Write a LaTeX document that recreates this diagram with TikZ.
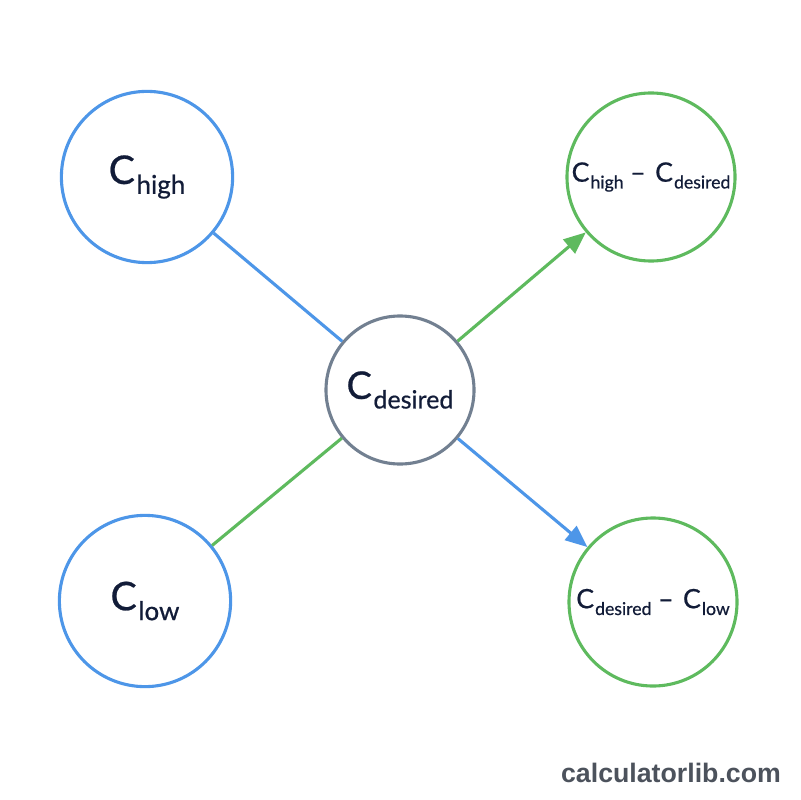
\documentclass[tikz,border=0pt]{standalone}
\usepackage{fontspec}
\setmainfont{Lato}
\newfontfamily\labelfont{Lato}[FakeBold=0.6]
\newfontfamily\sitefont{Liberation Sans}
\usetikzlibrary{arrows.meta, positioning}

\definecolor{lineblue}{RGB}{77,150,232}
\definecolor{linegreen}{RGB}{94,186,94}
\definecolor{ringgray}{RGB}{114,128,145}
\definecolor{inkblue}{RGB}{18,28,56}
\definecolor{sitegray}{RGB}{76,82,92}

% C with a lowered subscript word
\newcommand{\cval}[1]{C\kern0.04em\raisebox{-0.5ex}{\scalebox{0.66}{#1}}}
\newcommand{\cminus}{\kern0.25em–\kern0.35em}

\begin{document}
\begin{tikzpicture}[
    x=0.025cm, y=-0.025cm,
    ring/.style={circle, line width=2.2pt, fill=white, text=inkblue, inner sep=0pt},
    inring/.style={ring, draw=lineblue, minimum size=4.28cm, font=\labelfont\fontsize{28}{30}\selectfont},
    midring/.style={ring, draw=ringgray, minimum size=3.7cm, font=\labelfont\fontsize{27}{30}\selectfont},
    outring/.style={ring, draw=linegreen, minimum size=4.2cm, font=\labelfont\fontsize{19}{22}\selectfont},
    link/.style={line width=2.2pt},
    arrowlink/.style={link, -{Triangle[length=0.55cm, width=0.45cm]}}
]
\useasboundingbox (0,0) rectangle (800,800);
\fill[white] (0,0) rectangle (800,800);

\node[midring] (des) at (400,390) {\cval{desired}};
\node[inring] (high) at (147,177) {\cval{high}};
\node[inring] (low) at (145,601) {\cval{low}};
\node[outring] (diffhigh) at (651,177) {\cval{high}\cminus\cval{desired}};
\node[outring] (difflow) at (653,602) {\cval{desired}\cminus\cval{low}};

\draw[link, lineblue] (high) -- (des);
\draw[link, linegreen] (low) -- (des);
\draw[arrowlink, linegreen] (des) -- (diffhigh);
\draw[arrowlink, lineblue] (des) -- (difflow);

\node[font=\sitefont\bfseries\fontsize{19}{22}\selectfont, text=sitegray] (site) at (671,773) {calculatorlib.com};
\end{tikzpicture}
\end{document}
